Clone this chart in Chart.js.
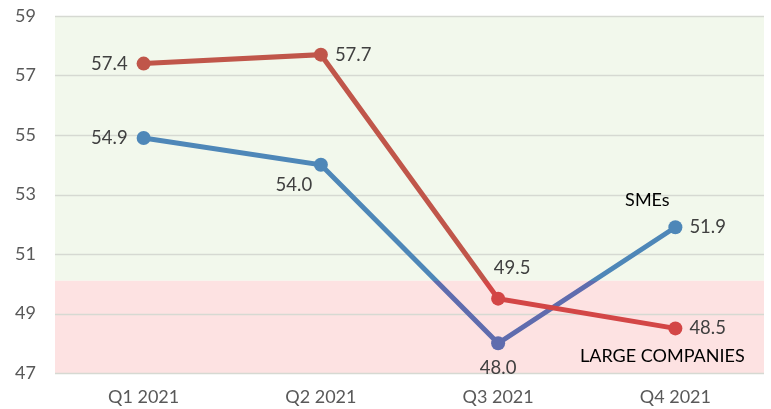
<!DOCTYPE html>
<html>
<head>
<meta charset="utf-8">
<script src="https://cdn.jsdelivr.net/npm/chart.js@4"></script>
<style>
  html, body { margin: 0; padding: 0; background: #fff; }
  #wrap { width: 771px; height: 409px; }
</style>
</head>
<body>
<div id="wrap"><canvas id="pmiChart"></canvas></div>
<script>
// --------------------- Data ---------------------
const quarters = ["Q1 2021", "Q2 2021", "Q3 2021", "Q4 2021"];
const largeCompanies = [57.4, 57.7, 49.5, 48.5];
const smes = [54.9, 54.0, 48.0, 51.9];
const yTicks = [47, 49, 51, 53, 55, 57, 59];
const threshold = 50.1; // boundary between green and pink bands

const FONT = "Lato, 'Open Sans', sans-serif";

// vertical gradient: one colour above the threshold, another below
function splitColor(ctx, top, bottom) {
  const chart = ctx.chart;
  const area = chart.chartArea;
  if (!area) return top;
  const y = chart.scales.y.getPixelForValue(threshold);
  const t = Math.min(Math.max((y - area.top) / (area.bottom - area.top), 0), 1);
  const g = chart.ctx.createLinearGradient(0, area.top, 0, area.bottom);
  g.addColorStop(0, top);
  g.addColorStop(t, top);
  g.addColorStop(t, bottom);
  g.addColorStop(1, bottom);
  return g;
}

// --------------------- Plugins ---------------------
const bands = {
  id: "bands",
  beforeDatasetsDraw(chart) {
    const { ctx, chartArea: a, scales: { y } } = chart;
    const yt = y.getPixelForValue(threshold);
    ctx.save();
    ctx.fillStyle = "#f2f8ec";
    ctx.fillRect(a.left, a.top, a.right - a.left, yt - a.top);
    ctx.fillStyle = "#fde2e2";
    ctx.fillRect(a.left, yt, a.right - a.left, a.bottom - yt);
    // grid lines on top of the bands
    ctx.strokeStyle = "#d6d9d2";
    ctx.lineWidth = 1.5;
    yTicks.forEach(v => {
      const py = Math.round(y.getPixelForValue(v)) + 0.5;
      ctx.beginPath();
      ctx.moveTo(a.left, py);
      ctx.lineTo(a.right, py);
      ctx.stroke();
    });
    ctx.restore();
  }
};

const valueLabels = {
  id: "valueLabels",
  afterDatasetsDraw(chart, args, opts) {
    const { ctx } = chart;
    ctx.save();
    ctx.font = "18.5px " + FONT;
    ctx.fillStyle = "#404040";
    ctx.textBaseline = "middle";
    chart.data.datasets.forEach((ds, di) => {
      const meta = chart.getDatasetMeta(di);
      meta.data.forEach((pt, i) => {
        const pos = opts.place[di][i];
        const txt = ds.data[i].toFixed(1);
        let x = pt.x, y = pt.y;
        if (pos === "left") { ctx.textAlign = "right"; x -= 16; }
        else if (pos === "right") { ctx.textAlign = "left"; x += 14; }
        else if (pos === "above") { ctx.textAlign = "center"; x += 14; y -= 31; }
        else if (pos === "below") { ctx.textAlign = "center"; y += 25; }
        else if (pos === "belowLeft") { ctx.textAlign = "center"; x -= 27; y += 20; }
        ctx.fillText(txt, x, y);
      });
    });
    // series names
    ctx.fillStyle = "#000";
    ctx.font = "18px " + FONT;
    ctx.textAlign = "center";
    const x = chart.scales.x;
    const yS = chart.scales.y;
    ctx.fillText("SMEs", x.getPixelForValue(3) - 28, yS.getPixelForValue(52.8));
    ctx.fillText("LARGE COMPANIES", x.getPixelForValue(3) - 13, yS.getPixelForValue(47.55));
    ctx.restore();
  }
};

// --------------------- Chart ---------------------
new Chart(document.getElementById("pmiChart"), {
  type: "line",
  data: {
    labels: quarters,
    datasets: [
      {
        label: "LARGE COMPANIES",
        data: largeCompanies,
        borderColor: ctx => splitColor(ctx, "#c0564a", "#d34646"),
        pointBackgroundColor: largeCompanies.map(v => v < threshold ? "#d34646" : "#c0564a"),
        pointBorderWidth: 0,
        borderWidth: 5,
        pointRadius: 7,
        tension: 0
      },
      {
        label: "SMEs",
        data: smes,
        borderColor: ctx => splitColor(ctx, "#4e87b8", "#5f6cae"),
        pointBackgroundColor: smes.map(v => v < threshold ? "#5f6cae" : "#4e87b8"),
        pointBorderWidth: 0,
        borderWidth: 5,
        pointRadius: 7,
        tension: 0
      }
    ]
  },
  options: {
    responsive: true,
    maintainAspectRatio: false,
    animation: false,
    layout: { padding: { top: 16, right: 4, left: 0, bottom: 0 } },
    plugins: {
      legend: { display: false },
      tooltip: { enabled: false },
      valueLabels: {
        place: [
          ["left", "right", "above", "right"],
          ["left", "belowLeft", "below", "right"]
        ]
      }
    },
    scales: {
      x: {
        offset: true,
        grid: { display: false, drawTicks: false },
        border: { display: false },
        ticks: { color: "#595959", font: { family: FONT, size: 18 }, padding: 13 },
        afterFit: s => { s.height = 36; s.paddingLeft = 0; s.paddingRight = 0; }
      },
      y: {
        min: 47,
        max: 59,
        afterBuildTicks: s => { s.ticks = yTicks.map(v => ({ value: v })); },
        grid: { display: false, drawTicks: false },
        border: { display: false },
        ticks: { color: "#595959", font: { family: FONT, size: 18 }, padding: 19 },
        afterFit: s => { s.width = 55; s.paddingTop = 0; s.paddingBottom = 0; }
      }
    }
  },
  plugins: [bands, valueLabels]
});
</script>
</body>
</html>
